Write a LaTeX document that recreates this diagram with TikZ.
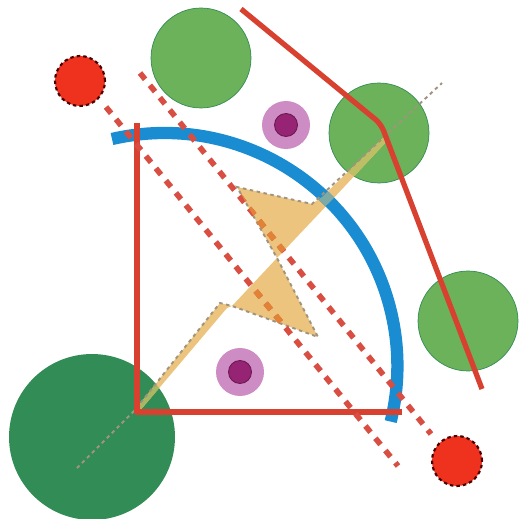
\documentclass[tikz,border=0pt]{standalone}
\usepackage{xcolor}
\usetikzlibrary{positioning}
\definecolor{darkgreen}{RGB}{50,140,85}
\definecolor{lightgreen}{RGB}{108,178,90}
\definecolor{redfill}{RGB}{238,50,30}
\definecolor{redline}{RGB}{216,64,48}
\definecolor{cutred}{RGB}{216,78,66}
\definecolor{cutorange}{RGB}{226,130,55}
\definecolor{arcblue}{RGB}{25,140,210}
\definecolor{arcpatch}{RGB}{125,170,165}
\definecolor{wedge}{RGB}{236,196,125}
\definecolor{olive}{RGB}{190,190,100}
\definecolor{halo}{RGB}{205,140,195}
\definecolor{core}{RGB}{150,35,115}
\begin{document}
\begin{tikzpicture}[
  x=0.02cm, y=-0.02cm,
  disc/.style={circle, inner sep=0pt, outer sep=0pt},
  biggreen/.style={disc, fill=darkgreen, minimum size=3.32cm},
  smallgreen/.style={disc, fill=lightgreen, draw=darkgreen, line width=0.4pt, minimum size=2cm},
  charge/.style={disc, fill=redfill, draw=black!70!red, line width=1.2pt, dash pattern=on 2pt off 1.7pt, minimum size=1cm},
  halodisc/.style={disc, fill=halo, minimum size=0.96cm},
  coredisc/.style={disc, fill=core, draw=core!70!black, line width=0.5pt, minimum size=0.46cm},
  mirror/.style={draw=redline, line width=3pt},
  cut/.style={line width=3.2pt, dash pattern=on 4.6pt off 4.4pt},
  ray/.style={draw=gray!70!wedge, line width=1.1pt, dash pattern=on 2pt off 2pt},
  quarter/.style={line width=7pt}]
\useasboundingbox (0,0) rectangle (519,519);
\node[biggreen] (source) at (92,437) {};
\node[smallgreen] (topgreen) at (201,58) {};
\node[smallgreen] (midgreen) at (379,133) {};
\node[smallgreen] (lowgreen) at (468,321) {};
\node[charge] (redtop) at (80,81) {};
\node[charge] (redlow) at (457,461) {};
\node[halodisc] (pinktop) at (286,125) {};
\node[coredisc] (coretop) at (pinktop) {};
\node[halodisc] (pinklow) at (240,372) {};
\node[coredisc] (corelow) at (pinklow) {};
% points of the beam
\coordinate (corner) at (135,410);
\coordinate (waist) at (277,258);
\coordinate (bendlow) at (220,303);
\coordinate (tipup) at (237,187);
\coordinate (tipright) at (312,204);
\coordinate (tiplow) at (318,337);
\coordinate (lowleft) at (232,306);
\coordinate (rayend) at (442,83);
\coordinate (raystart) at (77,468);
% wedges
\fill[wedge] (tipup) -- (tipright) -- (322,197) -- (385,136) -- (388,140) -- (330,202) -- (waist) -- cycle;
\fill[wedge] (waist) -- (tiplow) -- (lowleft) -- (227,308) -- (138,413) -- (corner) -- (bendlow) -- (lowleft) -- cycle;
\draw[arcblue, quarter] (112,139) arc[start angle=-103, end angle=13.8, radius=233];
% beam seen through the discs and the arc
\begin{scope}
\clip (tipright) -- (322,197) -- (385,136) -- (388,140) -- (330,202) -- (320,211) -- cycle;
\fill[olive] (midgreen) circle[radius=50];
\draw[arcpatch, quarter] (112,139) arc[start angle=-103, end angle=13.8, radius=233];
\end{scope}
\begin{scope}
\clip (corner) -- (bendlow) -- (227,308) -- (138,413) -- cycle;
\fill[olive!85!darkgreen] (source) circle[radius=83];
\end{scope}
\draw[ray] (raystart) -- (corner) -- (bendlow) -- (lowleft) -- (tiplow) -- (waist) -- (tipup) -- (tipright) -- (rayend);
% mirrors
\coordinate (mirrorA) at (137,123);
\coordinate (mirrorB) at (137,412);
\coordinate (mirrorC) at (402,412);
\coordinate (foldA) at (241,9);
\coordinate (foldB) at (381,124);
\coordinate (foldC) at (482,389);
\draw[mirror, line join=round] (mirrorA) -- (mirrorB) -- (mirrorC);
\draw[mirror, rounded corners=4pt] (foldA) -- (foldB) -- (foldC);
% cut lines
\coordinate (cutA) at (106,107);
\coordinate (cutB) at (398,466);
\coordinate (cutC) at (140,73);
\coordinate (cutD) at (431,434);
\draw[cut, draw=cutred] (cutA) -- (cutB);
\draw[cut, draw=cutred] (cutC) -- (cutD);
\begin{scope}
\clip (tipup) -- (tipright) -- (320,211) -- (waist) -- cycle (waist) -- (tiplow) -- (lowleft) -- cycle;
\draw[cut, draw=cutorange] (cutA) -- (cutB);
\draw[cut, draw=cutorange] (cutC) -- (cutD);
\end{scope}
\end{tikzpicture}
\end{document}
